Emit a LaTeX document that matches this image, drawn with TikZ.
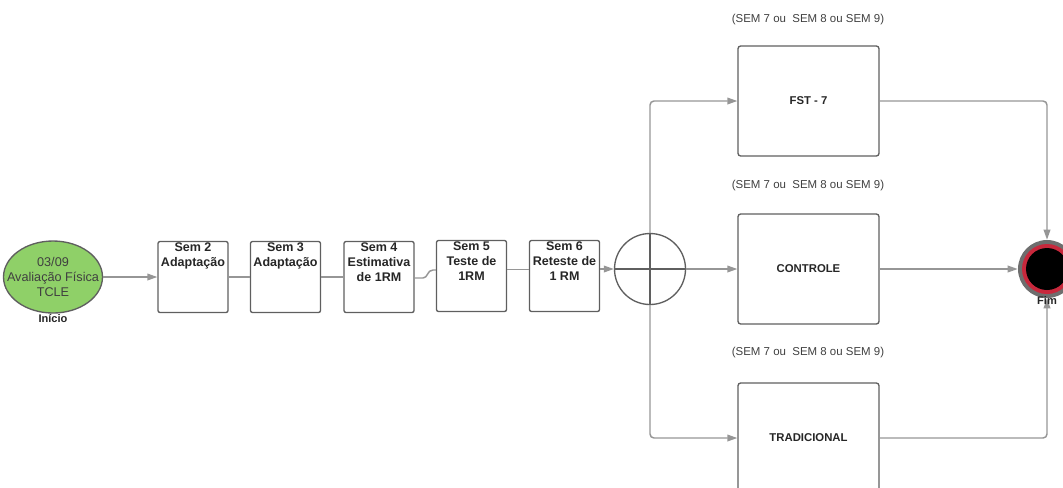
\documentclass[tikz,border=0pt]{standalone}
\usepackage{fontspec}
\setmainfont{Liberation Sans}
\usetikzlibrary{arrows.meta,shapes.geometric,calc}
\definecolor{ln}{RGB}{150,150,150}
\definecolor{bd}{RGB}{95,95,95}
\definecolor{grn}{RGB}{143,208,104}
\definecolor{fimred}{RGB}{200,40,60}
\definecolor{fimgray}{RGB}{110,110,110}
\begin{document}
\begin{tikzpicture}[x=0.75pt,y=-0.75pt,
 conn/.style={draw=ln, line width=1.1pt},
 arr/.style={conn, -{Triangle[length=7.5pt,width=5pt]}},
 box/.style={draw=bd, line width=1pt, rounded corners=1.5pt, minimum width=52.5pt, minimum height=53.25pt, inner sep=0pt},
 big/.style={draw=bd, line width=1pt, rounded corners=2pt, minimum width=105.75pt, minimum height=82.5pt, font=\bfseries\fontsize{8.5}{10}\selectfont, text=black!85},
 lab/.style={anchor=north, inner sep=0pt, yshift=-1.5pt, align=center, font=\bfseries\fontsize{9.4}{11.25}\selectfont, text=black!85},
 sem/.style={font=\fontsize{8.6}{10}\selectfont, text=black!75, inner sep=0pt},
 fimtxt/.style={font=\bfseries\fontsize{8.3}{10}\selectfont, text=black!85, inner sep=0pt}]
\useasboundingbox (0,0) rectangle (1063,487);

% start ellipse
\node[ellipse, draw=bd, line width=1pt, fill=grn, minimum width=74.25pt, minimum height=54pt, inner sep=0pt,
  label={[align=center, inner sep=0pt, font=\fontsize{9.5}{11.25}\selectfont, text=black!75]center:03/09\\Avalia\c{c}\~ao F\'isica\\TCLE},
  label={[fimtxt, anchor=north, yshift=-0.5pt]south:In\'icio}] (start) at (53,277) {};

% week boxes
\node[box, label={[lab]north:{Sem 2\\Adapta\c{c}\~ao}}] (s2) at (193,277) {};
\node[box, label={[lab]north:{Sem 3\\Adapta\c{c}\~ao}}] (s3) at (285.5,277) {};
\node[box, label={[lab]north:{Sem 4\\Estimativa\\de 1RM}}] (s4) at (379,277) {};
\node[box, label={[lab]north:{Sem 5\\Teste de\\1RM}}] (s5) at (471.5,276) {};
\node[box, label={[lab]north:{Sem 6\\Reteste de\\1 RM}}] (s6) at (564.5,276) {};

% junction
\node[circle, draw=bd, line width=1pt, minimum size=53.25pt, inner sep=0pt] (j) at (650,269) {};

% group boxes
\node[big] (fst) at (808.5,101) {FST - 7};
\node[big] (ctl) at (808.5,269) {CONTROLE};
\node[big] (trad) at (808.5,438) {TRADICIONAL};

% labels
\node[sem] (l1) at (808,20) {(SEM 7 ou\ \ SEM 8 ou SEM 9)};
\node[sem] (l2) at (808,186) {(SEM 7 ou\ \ SEM 8 ou SEM 9)};
\node[sem] (l3) at (808,353) {(SEM 7 ou\ \ SEM 8 ou SEM 9)};

% end node
\node[circle, fill=fimgray, minimum size=43.5pt, inner sep=0pt] (fim) at (1047,269) {};
\fill[fimred] (fim.center) circle (18.75pt);
\fill[black] (fim.center) circle (15.75pt);

% connectors on the chain
\draw[arr] (start) -- (s2);
\draw[conn] (s2) -- (s3);
\draw[conn] (s3) -- (s4);
\coordinate (jog) at (433,270);
\draw[conn] ([yshift=-0.75pt]s4.east) -- (423,278) .. controls (428,278) and (427,270) .. (jog) -- (s5.west |- jog);
\draw[conn] ([yshift=5pt]s5.east) -- ([yshift=5pt]s6.west);
\draw[arr] ([yshift=5.25pt]s6.east) -- (j.west);

% branches
\draw[arr, rounded corners=3pt] (j.north) |- (fst.west);
\draw[arr, rounded corners=3pt] (j.south) |- (trad.west);
\draw[arr] (j.east) -- (ctl.west);
\draw[bd, line width=1pt] (j.north) -- (j.south);
\draw[bd, line width=1pt] (j.west) -- (j.east);

% to end
\draw[arr, rounded corners=3pt] (fst.east) -| (fim.north);
\draw[arr] (ctl.east) -- (fim.west);
\draw[arr, rounded corners=3pt] (trad.east) -| (fim.south);

\node[fimtxt] (fimlab) at (1047,300) {Fim};
\end{tikzpicture}
\end{document}
